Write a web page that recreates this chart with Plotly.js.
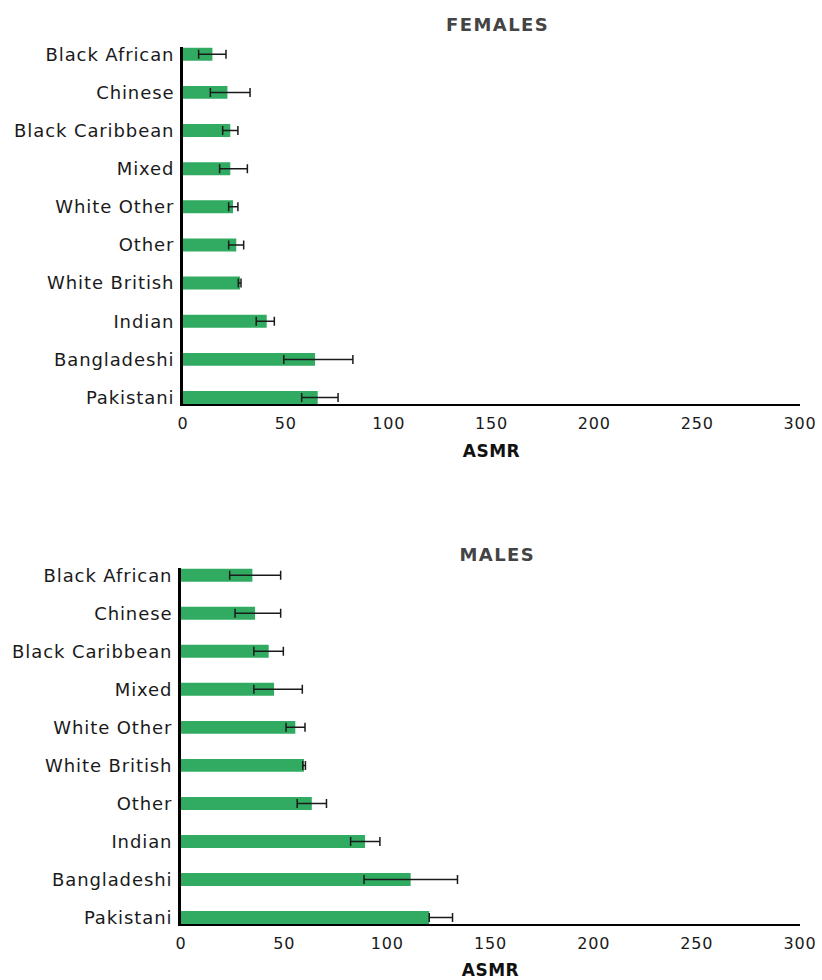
<!DOCTYPE html>
<html>
<head>
<meta charset="utf-8">
<script src="https://cdn.plot.ly/plotly-3.0.1.min.js"></script>
<style>
  html, body { margin: 0; padding: 0; background: #fff; }
  #chart { width: 822px; height: 980px; }
  /* slightly open tracking for a wider, geometric look */
  #chart .ytick text, #chart .y2tick text { letter-spacing: 0.9px; }
  #chart .xtick text, #chart .x2tick text { letter-spacing: 0.8px; }
  #chart .annotation-text { letter-spacing: 1.4px; }
  #chart .xtitle, #chart .x2title { letter-spacing: 0.5px; }
</style>
</head>
<body>
<div id="chart"></div>
<script>
// Age-standardised mortality rates (ASMR) by ethnic group, with 95% confidence limits.
// Categories listed bottom-to-top as drawn.
const femaleGroups = ["Pakistani", "Bangladeshi", "Indian", "White British", "Other",
                      "White Other", "Mixed", "Black Caribbean", "Chinese", "Black African"];
const femaleASMR   = [65.5, 64.2, 40.7, 27.7, 25.9, 24.3, 23.0, 23.0, 21.6, 14.3];
const femaleLower  = [57.7, 49.0, 35.6, 26.9, 22.2, 22.2, 17.8, 19.3, 13.3, 7.6];
const femaleUpper  = [75.4, 82.6, 44.4, 28.2, 29.5, 26.7, 31.3, 26.7, 32.6, 20.9];

const maleGroups = ["Pakistani", "Bangladeshi", "Indian", "Other", "White British",
                    "White Other", "Mixed", "Black Caribbean", "Chinese", "Black African"];
const maleASMR   = [120.3, 111.3, 89.2, 63.4, 59.6, 55.4, 45.1, 42.5, 35.9, 34.6];
const maleLower  = [120.3, 88.7, 82.2, 56.3, 59.0, 50.9, 35.3, 35.3, 26.2, 23.6];
const maleUpper  = [131.6, 134.0, 96.4, 70.5, 60.3, 60.1, 58.8, 49.6, 48.3, 48.3];

const xTicks = [0, 50, 100, 150, 200, 250, 300];

const W = 822, H = 980;
const green = "#31ab62";
const FAMILY = "DejaVu Sans, sans-serif";
const labelFont = { family: FAMILY, size: 18, color: "#1a1a1a" };
const tickFont  = { family: FAMILY, size: 16, color: "#1a1a1a" };
const headFont  = { family: FAMILY, size: 18, color: "#444444", weight: 700 };
const axisTitleFont = { family: FAMILY, size: 17, color: "#111111", weight: 700 };

function barTrace(groups, vals, lo, hi, xa, ya) {
  return {
    type: "bar",
    orientation: "h",
    y: groups,
    x: vals,
    xaxis: xa,
    yaxis: ya,
    width: 0.34,
    marker: { color: green },
    error_x: {
      type: "data",
      symmetric: false,
      array: hi.map((h, i) => h - vals[i]),
      arrayminus: lo.map((l, i) => vals[i] - l),
      color: "#1a1a1a",
      thickness: 1.5,
      width: 4.5
    },
    hoverinfo: "y+x",
    showlegend: false
  };
}

const data = [
  barTrace(femaleGroups, femaleASMR, femaleLower, femaleUpper, "x", "y"),
  barTrace(maleGroups, maleASMR, maleLower, maleUpper, "x2", "y2")
];

function xAxis(domainPx, anchor) {
  return {
    domain: [domainPx[0] / W, domainPx[1] / W],
    anchor: anchor,
    range: [0, 300],
    tickvals: xTicks,
    ticktext: xTicks.map(String),
    ticks: "",
    showgrid: false,
    zeroline: false,
    showline: true,
    linecolor: "#000",
    linewidth: 2,
    tickfont: tickFont,
    ticklabelstandoff: 4,
    title: { text: "ASMR", font: axisTitleFont, standoff: 13 },
    fixedrange: true
  };
}

function yAxis(topPx, bottomPx, anchor) {
  return {
    domain: [1 - bottomPx / H, 1 - topPx / H],
    anchor: anchor,
    type: "category",
    range: [-0.17, 9.19],
    ticks: "",
    showgrid: false,
    zeroline: false,
    showline: true,
    linecolor: "#000",
    linewidth: 3,
    tickfont: labelFont,
    ticklabelstandoff: 2,
    fixedrange: true
  };
}

const layout = {
  width: W,
  height: H,
  margin: { l: 0, r: 0, t: 0, b: 0 },
  paper_bgcolor: "#fff",
  plot_bgcolor: "#fff",
  bargap: 0.66,
  xaxis:  xAxis([183, 800], "y"),
  yaxis:  yAxis(47, 404, "x"),
  xaxis2: xAxis([181, 800], "y2"),
  yaxis2: yAxis(568, 924, "x2"),
  annotations: [
    { text: "FEMALES", xref: "paper", yref: "paper", x: 497 / W, y: 1 - 25 / H,
      xanchor: "center", yanchor: "middle", showarrow: false, font: headFont },
    { text: "MALES", xref: "paper", yref: "paper", x: 497 / W, y: 1 - 554 / H,
      xanchor: "center", yanchor: "middle", showarrow: false, font: headFont }
  ]
};

Plotly.newPlot("chart", data, layout, { displayModeBar: false, staticPlot: true });
</script>
</body>
</html>
